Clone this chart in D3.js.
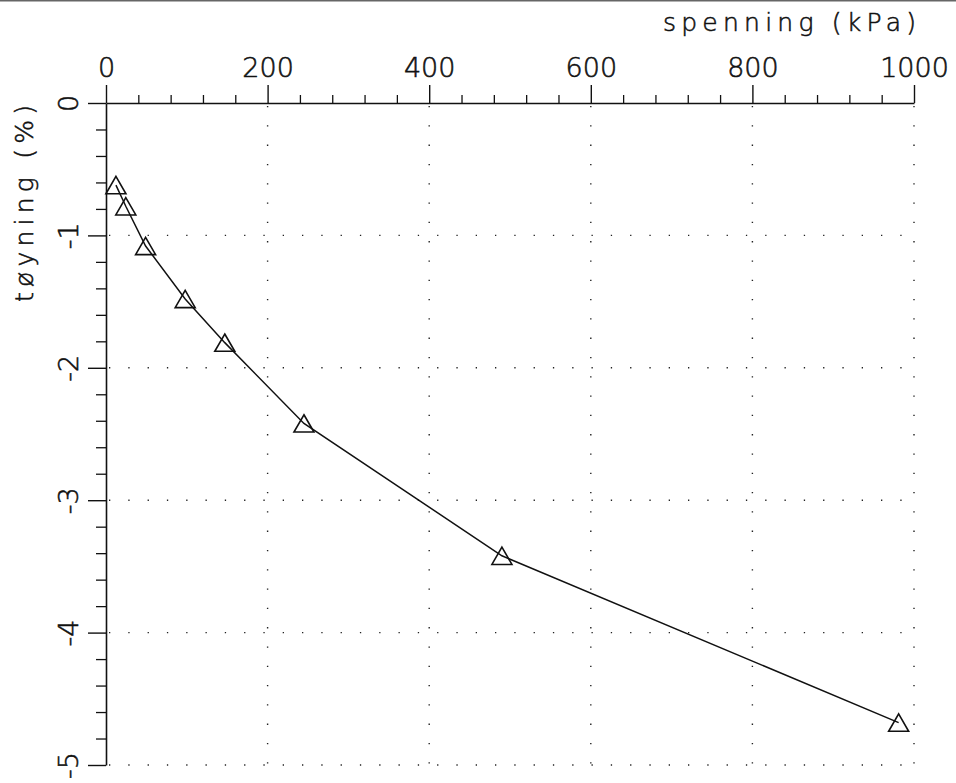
<!DOCTYPE html>
<html>
<head>
<meta charset="utf-8">
<script src="https://cdn.jsdelivr.net/npm/d3@7"></script>
<style>
  html, body { margin: 0; padding: 0; background: #fff; }
  svg { display: block; }
  text { font-family: "DejaVu Sans", "Liberation Sans", sans-serif; font-weight: 200; fill: #111; stroke: #111; stroke-width: 0.55; }
</style>
</head>
<body>
<svg id="chart" width="956" height="783"></svg>
<script>
// Oedometer test: applied stress (kPa) against strain (%)
const stress = [12.3, 24.5, 49, 98, 147, 245, 490, 981];
const strain = [-0.62, -0.78, -1.08, -1.48, -1.81, -2.42, -3.42, -4.68];

const xMajorTicks = [0, 200, 400, 600, 800, 1000];
const xTickLabels = ["0", "200", "400", "600", "800", "1000"];
const yMajorTicks = [0, -1, -2, -3, -4, -5];
const yTickLabels = ["0", "-1", "-2", "-3", "-4", "-5"];
const xMinorTicks = d3.range(40, 1000, 40).filter(v => v % 200 !== 0);
const yMinorTicks = d3.range(1, 25).map(i => -i * 0.2).filter(v => Math.abs(v - Math.round(v)) > 1e-6);

const xTitle = "spenning (kPa)";
const yTitle = "tøyning (%)";

const svg = d3.select("#chart");

const x = d3.scaleLinear().domain([0, 1000]).range([106, 914]);
const y = d3.scaleLinear().domain([0, -5]).range([103, 765]);

// thin scanner edge along the top
svg.append("line")
  .attr("x1", 0).attr("x2", 956).attr("y1", 0.75).attr("y2", 0.75)
  .attr("stroke", "#666").attr("stroke-width", 1.5);

// dotted grid at the major ticks
const grid = svg.append("g")
  .attr("stroke", "#222").attr("stroke-width", 1.4)
  .attr("stroke-dasharray", "1.3 18");
grid.selectAll("line.h")
  .data(yMajorTicks.filter(v => v !== 0))
  .join("line").attr("class", "h")
  .attr("x1", x(0) + 3).attr("x2", x(1000) + 1)
  .attr("y1", d => y(d)).attr("y2", d => y(d));
grid.selectAll("line.v")
  .data(xMajorTicks.filter(v => v !== 0))
  .join("line").attr("class", "v")
  .attr("y1", y(0) + 3).attr("y2", y(-5) + 1)
  .attr("x1", d => x(d)).attr("x2", d => x(d));

// top axis: minor ticks, then major ticks with labels
svg.append("g")
  .attr("transform", `translate(0,${y(0)})`)
  .call(d3.axisTop(x).tickValues(xMinorTicks).tickSize(8).tickSizeOuter(0).tickFormat(""))
  .call(g => g.select(".domain").remove())
  .call(g => g.selectAll("line").attr("stroke", "#111").attr("stroke-width", 1.3));

svg.append("g")
  .attr("transform", `translate(0,${y(0)})`)
  .call(d3.axisTop(x).tickValues(xMajorTicks).tickSize(18).tickSizeOuter(0).tickPadding(8)
    .tickFormat((d, i) => xTickLabels[i]))
  .call(g => g.select(".domain").attr("stroke", "#111").attr("stroke-width", 1.6))
  .call(g => g.selectAll("line").attr("stroke", "#111").attr("stroke-width", 1.4))
  .call(g => g.selectAll("text").attr("font-size", 27).attr("fill", "#111")
    .attr("font-family", null));

// left axis: minor ticks, then major ticks with rotated labels
svg.append("g")
  .attr("transform", `translate(${x(0)},0)`)
  .call(d3.axisLeft(y).tickValues(yMinorTicks).tickSize(10).tickSizeOuter(0).tickFormat(""))
  .call(g => g.select(".domain").remove())
  .call(g => g.selectAll("line").attr("stroke", "#111").attr("stroke-width", 1.3));

svg.append("g")
  .attr("transform", `translate(${x(0)},0)`)
  .call(d3.axisLeft(y).tickValues(yMajorTicks).tickSize(18).tickSizeOuter(0)
    .tickFormat((d, i) => yTickLabels[i]))
  .call(g => g.select(".domain").attr("stroke", "#111").attr("stroke-width", 1.6))
  .call(g => g.selectAll("line").attr("stroke", "#111").attr("stroke-width", 1.4))
  .call(g => g.selectAll("text")
    .attr("font-size", 27).attr("fill", "#111").attr("font-family", null)
    .attr("x", 0).attr("y", 0).attr("dy", null)
    .attr("text-anchor", "middle")
    .attr("transform", "translate(-28,0) rotate(-90)"));

// axis titles
svg.append("text")
  .attr("x", 663).attr("y", 31)
  .attr("font-size", 25)
  .attr("textLength", 253).attr("lengthAdjust", "spacing")
  .text(xTitle);

svg.append("text")
  .attr("transform", "translate(33,302) rotate(-90)")
  .attr("font-size", 25)
  .attr("textLength", 197).attr("lengthAdjust", "spacing")
  .text(yTitle);

// strain curve
const pts = stress.map((s, i) => [s, strain[i]]);
svg.append("path")
  .datum(pts)
  .attr("fill", "none").attr("stroke", "#111").attr("stroke-width", 1.5)
  .attr("d", d3.line().x(d => x(d[0])).y(d => y(d[1])));

// open triangle markers, centred on their bounding box
const boxTriangle = {
  draw(ctx, size) {
    const w = Math.sqrt(size * 4 / Math.sqrt(3));
    const h = w * Math.sqrt(3) / 2;
    ctx.moveTo(0, -h / 2);
    ctx.lineTo(w / 2, h / 2);
    ctx.lineTo(-w / 2, h / 2);
    ctx.closePath();
  }
};
const side = 20;
svg.append("g")
  .selectAll("path")
  .data(pts)
  .join("path")
  .attr("transform", d => `translate(${x(d[0])},${y(d[1])})`)
  .attr("d", d3.symbol().type(boxTriangle).size(side * side * Math.sqrt(3) / 4))
  .attr("fill", "none").attr("stroke", "#111").attr("stroke-width", 1.6);
</script>
</body>
</html>
